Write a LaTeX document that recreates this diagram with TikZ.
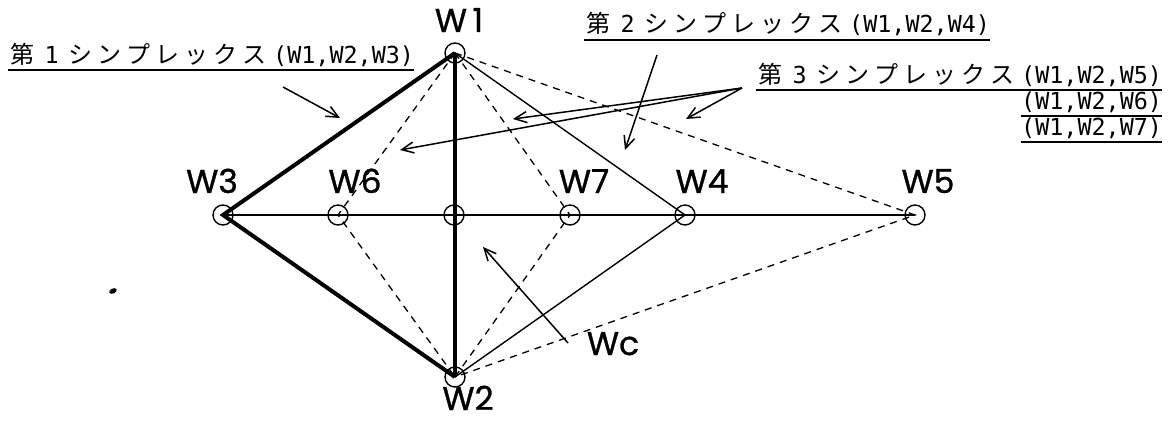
\documentclass[tikz,border=0pt]{standalone}
\usepackage{fontspec}
\usetikzlibrary{arrows.meta}
\newfontfamily\jpf{Noto Sans CJK JP}
\newfontfamily\monof{DejaVu Sans Mono}
\newfontfamily\wfont[FakeBold=1]{Poppins}
\newcommand\kc[1]{\makebox[29pt][c]{#1}}
\newcommand\jtxt{\jpf\fontsize{24pt}{24pt}\selectfont}
\newcommand\mtxt{\monof\fontsize{23.4pt}{24pt}\selectfont}
\newcommand\simplexlabel[2]{\kc{\jtxt 第}\kc{\mtxt #1}\kc{\jtxt シ}\kc{\jtxt ン}\kc{\jtxt プ}\kc{\jtxt レ}\kc{\jtxt ッ}\kc{\jtxt ク}\kc{\jtxt ス}\hspace{4pt}{\mtxt(W1,W2,#2)}}
\begin{document}
\begin{tikzpicture}[x=1pt,y=-1pt,
  thickline/.style={line width=4pt},
  midline/.style={line width=2.5pt},
  thinline/.style={line width=1.4pt},
  dashline/.style={line width=1.3pt, dash pattern=on 7pt off 6pt},
  pnt/.style={circle, draw, line width=1.4pt, minimum size=20pt, inner sep=0pt},
  wlab/.style={font=\wfont\fontsize{33pt}{33pt}\selectfont, inner sep=0pt, anchor=base},
  jlab/.style={inner sep=0pt, anchor=base west},
  uline/.style={line width=2pt},
  ptr/.style={line width=1.5pt, -{Straight Barb[length=12pt,width=11pt]}}]
\useasboundingbox (0,0) rectangle (1170,422);
% points
\node[pnt] (w1) at (455,53) {};
\node[pnt] (w2) at (455,377) {};
\node[pnt] (w3) at (223,215) {};
\node[pnt] (w6) at (338,215) {};
\node[pnt] (wc) at (454,215) {};
\node[pnt] (w7) at (570,215) {};
\node[pnt] (w4) at (685,215) {};
\node[pnt] (w5) at (915,215) {};
% edges
\draw[thickline] (w1.center) -- (w3.center) -- (w2.center);
\draw[thickline] (w1.center) -- (w2.center);
\draw[midline] (w3.center) -- (w5.center);
\draw[thinline] (w1.center) -- (w4.center) -- (w2.center);
\draw[dashline] (w1.center) -- (w6.center) -- (w2.center);
\draw[dashline] (w1.center) -- (w7.center) -- (w2.center);
\draw[dashline] (w1.center) -- (w5.center) -- (w2.center);
% point labels
\node[wlab] (lw1) at (459,32) {W\,1};
\node[wlab] (lw2) at (468,410) {W2};
\node[wlab] (lw3) at (212,193) {W3};
\node[wlab] (lw6) at (355,193) {W6};
\node[wlab] (lw7) at (584,193) {W7};
\node[wlab] (lw4) at (702,193) {W4};
\node[wlab] (lw5) at (928,193) {W5};
\node[wlab] (lwc) at (613,355) {Wc};
% simplex labels
\node[jlab] (s1) at (8,64) {\simplexlabel{1}{W3}};
\draw[uline] ([yshift=-6pt]s1.base west) -- ([yshift=-6pt]s1.base east);
\node[jlab] (s2) at (584,33) {\simplexlabel{2}{W4}};
\draw[uline] ([yshift=-7pt]s2.base west) -- ([yshift=-7pt]s2.base east);
\node[jlab] (s3) at (756,84) {\simplexlabel{3}{W5}};
\draw[uline] ([yshift=-6pt]s3.base west) -- ([yshift=-6pt]s3.base east);
\node[inner sep=0pt, anchor=base east] (s3b) at (s3.base east |- 0,110) {\mtxt(W1,W2,W6)};
\draw[uline] ([yshift=-6pt]s3b.base west) -- ([yshift=-6pt]s3b.base east);
\node[inner sep=0pt, anchor=base east] (s3c) at (s3.base east |- 0,136) {\mtxt(W1,W2,W7)};
\draw[uline] ([yshift=-6pt]s3c.base west) -- ([yshift=-6pt]s3c.base east);
% pointer arrows
\coordinate (a1s) at (283,87);
\coordinate (a1e) at (340,118);
\coordinate (a2s) at (657,55);
\coordinate (a2e) at (625,150);
\coordinate (a3s) at (742,88);
\coordinate (a3e1) at (513,119);
\coordinate (a3e2) at (400,150);
\coordinate (a3e3) at (686,119);
\coordinate (a4s) at (568,343);
\coordinate (a4e) at (483,247);
\draw[ptr] (a1s) -- (a1e);
\draw[ptr] (a2s) -- (a2e);
\draw[ptr] (a3s) -- (a3e1);
\draw[ptr] (a3s) -- (a3e2);
\draw[ptr] (a3s) -- (a3e3);
\draw[ptr] (a4s) -- (a4e);
% stray mark
\fill[rotate around={25:(113,291)}] (113,291) ellipse (4pt and 2.5pt);
\end{tikzpicture}
\end{document}
